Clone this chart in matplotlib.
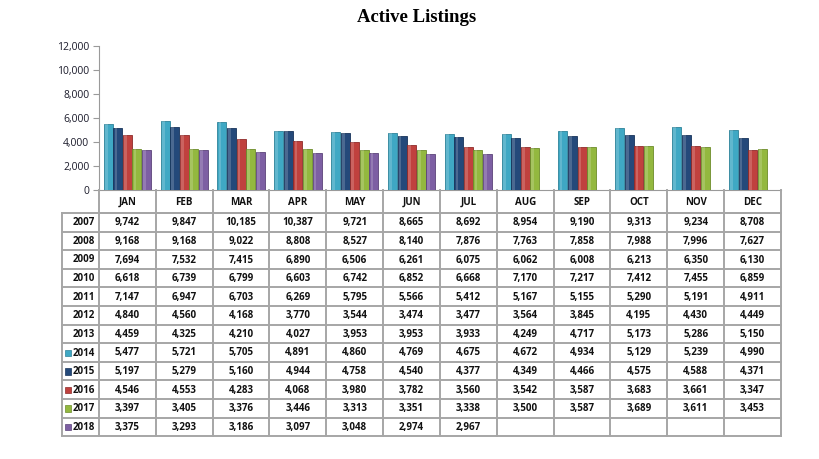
import matplotlib
matplotlib.use("Agg")
import matplotlib.pyplot as plt
from matplotlib.patches import Rectangle

months = ["JAN", "FEB", "MAR", "APR", "MAY", "JUN", "JUL", "AUG", "SEP", "OCT", "NOV", "DEC"]
years = ["2007", "2008", "2009", "2010", "2011", "2012", "2013",
         "2014", "2015", "2016", "2017", "2018"]

y2007 = [9742, 9847, 10185, 10387, 9721, 8665, 8692, 8954, 9190, 9313, 9234, 8708]
y2008 = [9168, 9168, 9022, 8808, 8527, 8140, 7876, 7763, 7858, 7988, 7996, 7627]
y2009 = [7694, 7532, 7415, 6890, 6506, 6261, 6075, 6062, 6008, 6213, 6350, 6130]
y2010 = [6618, 6739, 6799, 6603, 6742, 6852, 6668, 7170, 7217, 7412, 7455, 6859]
y2011 = [7147, 6947, 6703, 6269, 5795, 5566, 5412, 5167, 5155, 5290, 5191, 4911]
y2012 = [4840, 4560, 4168, 3770, 3544, 3474, 3477, 3564, 3845, 4195, 4430, 4449]
y2013 = [4459, 4325, 4210, 4027, 3953, 3953, 3933, 4249, 4717, 5173, 5286, 5150]
y2014 = [5477, 5721, 5705, 4891, 4860, 4769, 4675, 4672, 4934, 5129, 5239, 4990]
y2015 = [5197, 5279, 5160, 4944, 4758, 4540, 4377, 4349, 4466, 4575, 4588, 4371]
y2016 = [4546, 4553, 4283, 4068, 3980, 3782, 3560, 3542, 3587, 3683, 3661, 3347]
y2017 = [3397, 3405, 3376, 3446, 3313, 3351, 3338, 3500, 3587, 3689, 3611, 3453]
y2018 = [3375, 3293, 3186, 3097, 3048, 2974, 2967, None, None, None, None, None]

table_rows = [y2007, y2008, y2009, y2010, y2011, y2012, y2013,
              y2014, y2015, y2016, y2017, y2018]
# only the last five years are drawn as bars
bar_series = [y2014, y2015, y2016, y2017, y2018]
bar_colors = ["#3FA8C4", "#24497A", "#C0413E", "#93B83F", "#7D5FA3"]
edge_colors = ["#2D8299", "#17335A", "#8E2B29", "#6C8C2A", "#5B4379"]

W, H = 820, 459
fig = plt.figure(figsize=(W / 100, H / 100), dpi=100)

x0, x1 = 99, 781        # plot area in pixels
ytop, ybot = 46, 190
ax = fig.add_axes([x0 / W, 1 - ybot / H, (x1 - x0) / W, (ybot - ytop) / H])

step = 0.168
bw = 0.158
for k, (vals, c, ec) in enumerate(zip(bar_series, bar_colors, edge_colors)):
    xs = [i + 0.5 + (k - 2) * step for i in range(12) if vals[i] is not None]
    hs = [v for v in vals if v is not None]
    ax.bar(xs, hs, width=bw, color=c, edgecolor=ec, linewidth=0.6, zorder=3)
    # light highlight on the left part of each bar
    ax.bar([x - bw * 0.22 for x in xs], hs, width=bw * 0.3, color="white",
           alpha=0.18, linewidth=0, zorder=4)

ax.set_xlim(0, 12)
ax.set_ylim(0, 12000)
ax.set_yticks(range(0, 12001, 2000))
ax.set_yticklabels([f"{v:,}" for v in range(0, 12001, 2000)],
                   fontsize=7.5, color="#1a1a2a", family="Open Sans")
ax.set_xticks([])
for s in ["top", "right"]:
    ax.spines[s].set_visible(False)
ax.spines["left"].set_color("#9a9a9a")
ax.spines["bottom"].set_color("#9a9a9a")
ax.tick_params(axis="y", length=4, color="#9a9a9a", pad=3)

fig.text(417 / W, 1 - 17 / H, "Active Listings", ha="center", va="center",
         fontsize=13.5, fontweight="bold", family="Liberation Serif")

# data table drawn below the plot area
lab0 = 62
hdr_bot = 213
row_h = 18.6
tab_bot = hdr_bot + row_h * len(years)
tax = fig.add_axes([0, 0, 1, 1])
tax.set_xlim(0, W)
tax.set_ylim(H, 0)
tax.axis("off")

col_w = (x1 - x0) / 12
line_c = "#a6a6a6"
lw = 1.4
for i in range(13):
    xx = x0 + i * col_w
    tax.plot([xx, xx], [ybot, tab_bot], color=line_c, lw=lw)
tax.plot([x0, x1], [hdr_bot, hdr_bot], color=line_c, lw=lw)
tax.plot([lab0, lab0], [hdr_bot, tab_bot], color=line_c, lw=lw)
for r in range(len(years) + 1):
    yy = hdr_bot + r * row_h
    tax.plot([lab0, x1], [yy, yy], color=line_c, lw=lw)

tfont = dict(fontsize=7.0, fontweight="bold", family="Open Sans", color="#111111")
for i, m in enumerate(months):
    tax.text(x0 + (i + 0.5) * col_w, (ybot + hdr_bot) / 2 + 1, m,
             ha="center", va="center", **tfont)

for r, (yr, vals) in enumerate(zip(years, table_rows)):
    yc = hdr_bot + (r + 0.5) * row_h + 0.5
    tax.text(x0 - 4, yc, yr, ha="right", va="center", **tfont)
    if r >= 7:
        k = r - 7
        tax.add_patch(Rectangle((65, yc - 3.5), 6.5, 6.5,
                                facecolor=bar_colors[k], edgecolor=edge_colors[k], lw=0.5))
    for i, v in enumerate(vals):
        if v is not None:
            tax.text(x0 + (i + 0.5) * col_w, yc, f"{v:,}",
                     ha="center", va="center", **tfont)

fig.savefig("out.png", dpi=100)
